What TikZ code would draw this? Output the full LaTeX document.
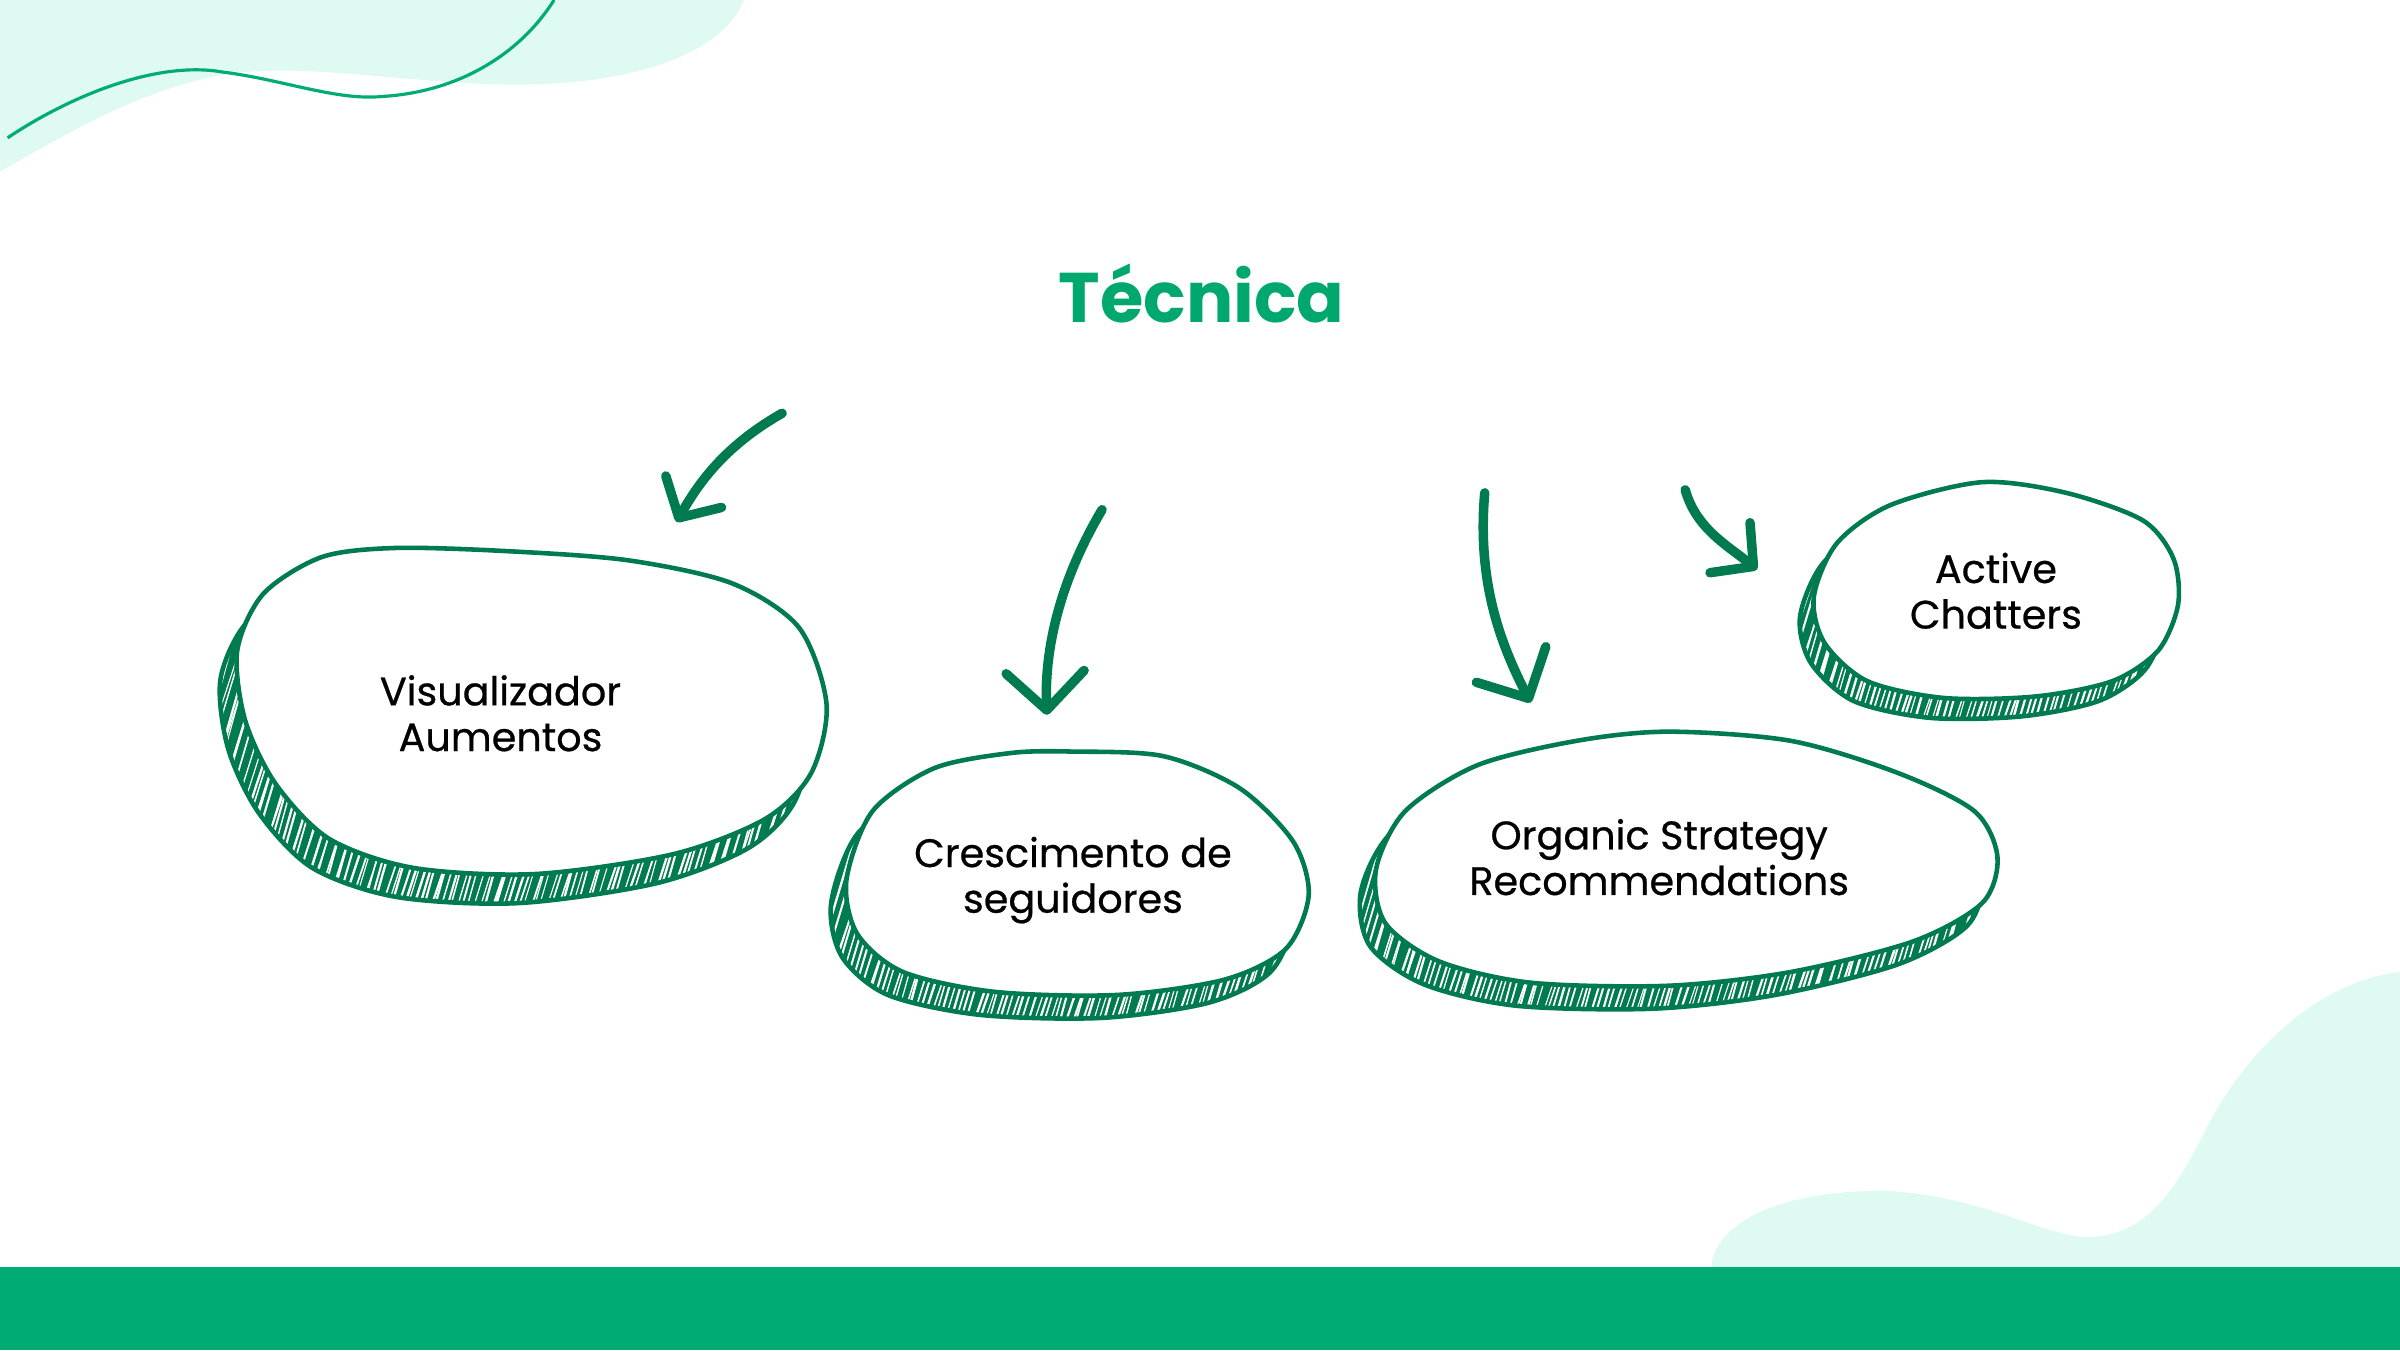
\documentclass[tikz,border=0pt]{standalone}
\usepackage{fontspec}
\setmainfont{Poppins}
\newfontfamily\blobfont{Poppins}[FakeBold=0.6]
\usetikzlibrary{arrows.meta}
\definecolor{blobgreen}{HTML}{007A4F}
\definecolor{titlegreen}{HTML}{00A86E}
\definecolor{bargreen}{HTML}{00AB74}
\definecolor{mint}{HTML}{DFFAF2}
\tikzset{
    blobline/.style = {draw=blobgreen, line width=1.3pt},
    hatchline/.style = {white, line width={0.3pt+0.4pt*rnd}},
    blobtext/.style = {align=center, text=black, font=\blobfont\fontsize{11.3}{13}\selectfont},
    titletext/.style = {text=titlegreen, font=\fontsize{20}{24}\bfseries\selectfont},
    edgeg/.style = {blobgreen, line width=2.7pt, line cap=round, -{Straight Barb[length=0.38cm,width=0.78cm,round]}},
    edgegs/.style = {blobgreen, line width=2.7pt, line cap=round, -{Straight Barb[length=0.3cm,width=0.64cm,round]}},
    decoline/.style = {draw=bargreen, line width=0.9pt},
}
% #1 outline points, #2 shadow shift, #3 first hatch x, #4 hatch count, #5 hatch bottom y
\newcommand{\sketchblob}[5]{%
  \begin{scope}[shift={#2}]
    \begin{scope}
      \clip plot[smooth cycle] coordinates {#1};
      \fill[blobgreen] (0,0) rectangle (1568,882);
      \foreach \k in {0,...,#4}
        \draw[hatchline] ({#3+3.6*\k+1.5*rnd},#5) -- ++({70+20*rnd},-260);
    \end{scope}
    \draw[blobline] plot[smooth cycle] coordinates {#1};
  \end{scope}
  \fill[white] plot[smooth cycle] coordinates {#1};
  \draw[blobline] plot[smooth cycle] coordinates {#1};
}

\begin{document}
\begin{tikzpicture}[x=0.015306cm, y=-0.015306cm]
  \pgfmathsetseed{7}
  \useasboundingbox (0,0) rectangle (1568,882);

  % background
  \fill[mint] (0,0) -- (486,0) .. controls (470,40) and (400,58) .. (320,55)
    .. controls (250,52) and (200,42) .. (150,48) .. controls (90,58) and (40,90) .. (0,112) -- cycle;
  \draw[decoline] (5,90) .. controls (50,60) and (105,40) .. (145,47)
    .. controls (185,52) and (220,66) .. (250,63) .. controls (300,60) and (340,35) .. (362,0);
  \fill[mint] (1118,828) .. controls (1120,800) and (1160,778) .. (1230,778)
    .. controls (1290,780) and (1330,805) .. (1360,808) .. controls (1400,810) and (1420,780) .. (1440,740)
    .. controls (1470,680) and (1520,640) .. (1568,635) -- (1568,828) -- cycle;
  \fill[bargreen] (0,828) rectangle (1568,882);

  % blobs
  \sketchblob{(258,358) (330,360) (410,366) (478,381) (522,410) (540,460) (530,505) (500,535)
    (440,558) (350,571) (270,567) (215,548) (180,512) (160,470) (155,425) (172,388) (210,364)}{(-11,19)}{60}{135}{600}
  \sketchblob{(700,491) (760,494) (810,515) (845,550) (855,585) (840,620) (800,640) (730,650)
    (650,648) (590,635) (560,610) (553,575) (570,530) (610,502) (660,492)}{(-10,15)}{495}{100}{670}
  \sketchblob{(1090,478) (1170,484) (1240,505) (1290,530) (1305,560) (1295,590) (1250,615) (1170,635)
    (1090,644) (1000,642) (940,628) (905,603) (899,568) (918,530) (965,500) (1030,484)}{(-10,15)}{845}{125}{665}
  \sketchblob{(1295,315) (1350,322) (1400,340) (1420,365) (1423,395) (1410,425) (1380,445) (1330,455)
    (1270,456) (1220,445) (1192,420) (1185,390) (1200,355) (1235,330)}{(-9,13)}{1135}{80}{475}

  % labels
  \node[titletext, anchor=base] (title) at (785,211) {Técnica};
  \node[blobtext] (visual) at (327,466) {Visualizador\\Aumentos};
  \node[blobtext] (growth) at (701,575) {Crescimento de\\seguidores};
  \node[blobtext] (organic) at (1084,560) {Organic Strategy\\Recommendations};
  \node[blobtext] (chatters) at (1304,386) {Active\\Chatters};

  % arrows
  \coordinate (a1s) at (511,270); \coordinate (a1e) at (442,341);
  \coordinate (a2s) at (720,333); \coordinate (a2e) at (684,467);
  \coordinate (a3s) at (970,322); \coordinate (a3e) at (1000,459);
  \coordinate (a4s) at (1101,320); \coordinate (a4e) at (1148,372);
  \draw[edgegs] (a1s) .. controls (472,292) and (455,318) .. (a1e);
  \draw[edgeg] (a2s) .. controls (695,375) and (682,420) .. (a2e);
  \draw[edgeg] (a3s) .. controls (965,380) and (980,420) .. (a3e);
  \draw[edgegs] (a4s) .. controls (1108,345) and (1128,356) .. (a4e);
\end{tikzpicture}
\end{document}
